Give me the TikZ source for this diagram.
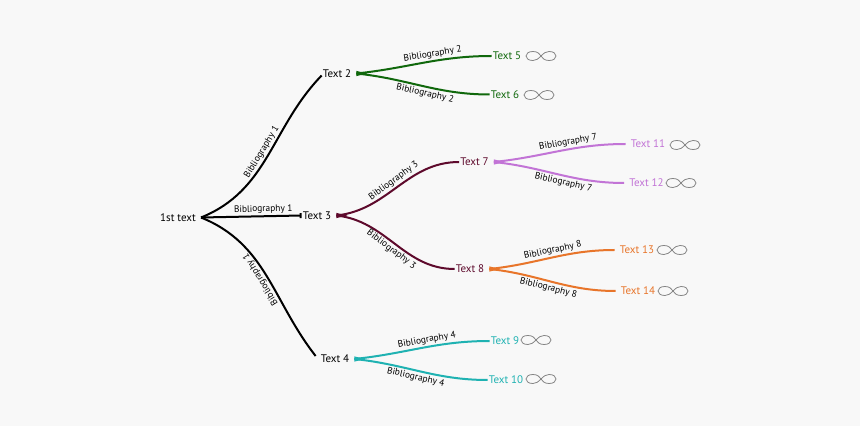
\documentclass[tikz,border=0pt]{standalone}
\usepackage{fontspec}
\setmainfont{PT Sans}
\usepackage{xcolor}
\usetikzlibrary{arrows.meta, positioning}
\definecolor{bgpage}{HTML}{F8F8F8}
\definecolor{leafgreen}{HTML}{10680C}
\definecolor{maroon}{HTML}{5E0A2C}
\definecolor{lilac}{HTML}{C274D6}
\definecolor{carrot}{HTML}{E8752A}
\definecolor{seateal}{HTML}{1FB2B2}
\tikzset{
  %% Topic text
  topic/.style={
    text=#1, font=\fontsize{11}{13}\selectfont,
    inner sep=1pt
  },
  topic/.default=black,
  %% Last level topic, further from its branch
  lasttopic/.style={topic=#1, inner xsep=5pt},
  %% Curved branch
  branch/.style={draw=#1, line width=2pt},
  %% Wedge where branches start
  fanwedge/.pic={
    \fill[pic actions] (0,2.6) -- (0,-2.6) -- (11,0) -- cycle;
  },
  %% Text along a branch
  biblabel/.style={
    font=\fontsize{9.4}{11}\selectfont, sloped,
    inner sep=1.5pt
  },
  %% Grey link icon
  linkicon/.pic={
    \draw[black!48, line width=0.8pt]
      (0,0) .. controls (3,3) and (5,4.5) .. (8,4.5)
      .. controls (12.5,4.5) and (15,2.5) .. (15,0)
      .. controls (15,-2.5) and (12.5,-4.5) .. (8,-4.5)
      .. controls (3,-4.5) and (1.5,-2) .. (0,0)
      .. controls (-1.5,2) and (-3,4.5) .. (-8,4.5)
      .. controls (-12.5,4.5) and (-15,2.5) .. (-15,0)
      .. controls (-15,-2.5) and (-12.5,-4.5) .. (-8,-4.5)
      .. controls (-5,-4.5) and (-3,-3) .. (0,0);
  },
}

\begin{document}
\begin{tikzpicture}[x=1pt, y=1pt]

  \useasboundingbox[fill=bgpage] (0,0) rectangle (860,426);

  %% Level 1 and 2
  \node[topic] (root) at (178,208.5) {1st text};
  \node[topic] (t2) at (337,352.5) {Text 2};
  \node[topic] (t3) at (317,210.5) {Text 3};
  \node[topic] (t4) at (335,67) {Text 4};

  %% Level 3
  \node[topic=leafgreen] (t5) at (507,370) {Text 5};
  \node[topic=leafgreen] (t6) at (505,331.5) {Text 6};
  \node[topic=maroon] (t7) at (474.5,264) {Text 7};
  \node[topic=maroon] (t8) at (470,157) {Text 8};
  \node[topic=seateal] (t9) at (505,85) {Text 9};
  \node[topic=seateal] (t10) at (506,46) {Text 10};

  %% Level 4
  \node[lasttopic=lilac] (t11) at (648,282) {Text 11};
  \node[lasttopic=lilac] (t12) at (646.5,243) {Text 12};
  \node[lasttopic=carrot] (t13) at (637,176) {Text 13};
  \node[lasttopic=carrot] (t14) at (638,135) {Text 14};

  %% Root branches
  \draw[branch=black] ([xshift=4pt]root.east) to[out=22,in=226]
        node[biblabel, above, pos=0.5] {Bibliography 1}
        ([yshift=-2pt]t2.west);
  \draw[branch=black, -{Bar[width=5pt,length=1pt]}] ([xshift=4pt]root.east) --
        node[biblabel, above, pos=0.62] {Bibliography 1} (t3.west);
  \draw[branch=black] ([shift={(-4pt,3pt)}]t4.west) to[out=128,in=-22]
        node[biblabel, above, pos=0.5, allow upside down] {Bibliography 1}
        ([xshift=4pt]root.east);
  \pic[black, scale=0.6] (fan1) at ([xshift=4pt]root.east) {fanwedge};

  %% Upper child branches
  \foreach \a/\b/\c/\n/\p in {t2/t5/leafgreen/2/0.58, t3/t7/maroon/3/0.5,
                              t7/t11/lilac/7/0.58, t8/t13/carrot/8/0.52,
                              t4/t9/seateal/4/0.55}
    \draw[branch=\c] ([xshift=4pt]\a.east) to[out=6,in=180]
          node[biblabel, above, pos=\p] {Bibliography \n} (\b.west);

  %% Lower child branches
  \foreach \a/\b/\c/\n/\p in {t2/t6/leafgreen/2/0.53, t3/t8/maroon/3/0.5,
                              t7/t12/lilac/7/0.55, t8/t14/carrot/8/0.48,
                              t4/t10/seateal/4/0.47}
    \draw[branch=\c] ([xshift=4pt]\a.east) to[out=-6,in=180]
          node[biblabel, below, pos=\p] {Bibliography \n} (\b.west);

  %% Wedges on the parents
  \foreach \a/\c in {t2/leafgreen, t3/maroon, t7/lilac, t8/carrot, t4/seateal}
    \pic[\c] (fan\a) at ([xshift=4pt]\a.east) {fanwedge};

  %% Link icons
  \foreach \x/\y/\i in {541/370/a, 539/331/b, 685/281/c, 681/243/d,
                        672/176/e, 673/135/f, 536/86/g, 541/47/h}
    \pic (icon\i) at (\x,\y) {linkicon};

\end{tikzpicture}
\end{document}
